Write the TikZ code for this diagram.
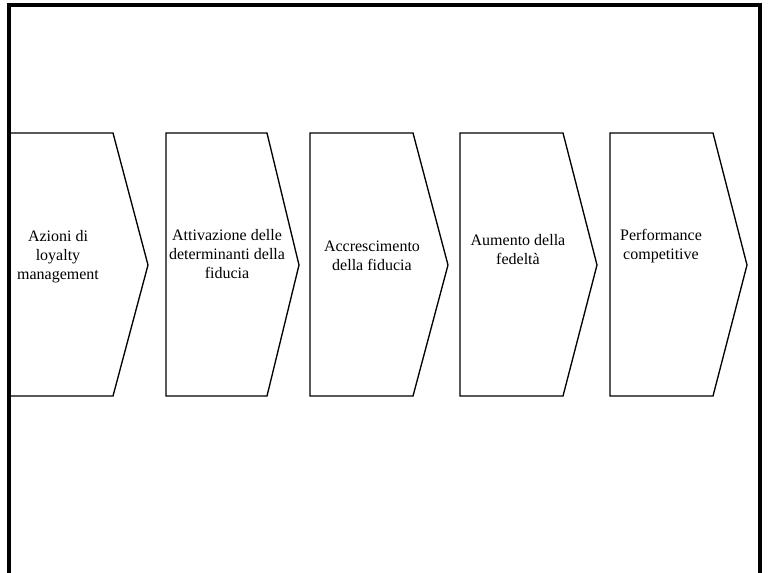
\documentclass[tikz,border=0pt]{standalone}
\usepackage{fontspec}
\setmainfont{Liberation Serif}
\usetikzlibrary{positioning}

\tikzset{
    chev/.style={draw, line width=1pt, line join=miter, fill=white},
    lbl/.style={align=center, inner sep=0pt,
        font=\fontsize{12}{14.25}\selectfont}
}

\begin{document}
\begin{tikzpicture}[x=0.75pt, y=-0.75pt]

    \useasboundingbox (0,0) rectangle (770,572);
    \clip (0,0) rectangle (770,572);

    % frame, open at the bottom
    \draw[line width=2.3pt] (9,590) -- (9,5) -- (760,5) -- (760,590);

    % the five steps
    \draw[chev] (10,133) -- (113,133) -- (148,265) -- (113,396) -- (10,396) -- cycle;
    \draw[chev] (166,133) -- (267,133) -- (299,265) -- (267,396) -- (166,396) -- cycle;
    \draw[chev] (310,133) -- (413,133) -- (448,265) -- (413,396) -- (310,396) -- cycle;
    \draw[chev] (460,133) -- (563,133) -- (597,265) -- (563,396) -- (460,396) -- cycle;
    \draw[chev] (610,133) -- (713,133) -- (747,265) -- (713,396) -- (610,396) -- cycle;
    \draw[line width=2.3pt] (9,120) -- (9,410);

    \node[lbl] (azioni) at (58,257) {Azioni di\\loyalty\\management};

    \node[lbl] (attivazione) at (227,254)
        {Attivazione delle\\determinanti della\\fiducia};

    \node[lbl] (accrescimento) at (372,256) {Accrescimento\\della fiducia};

    \node[lbl] (aumento) at (518,250) {Aumento della\\fedeltà};

    \node[lbl] (performance) at (661,246) {Performance\\competitive};

\end{tikzpicture}
\end{document}
